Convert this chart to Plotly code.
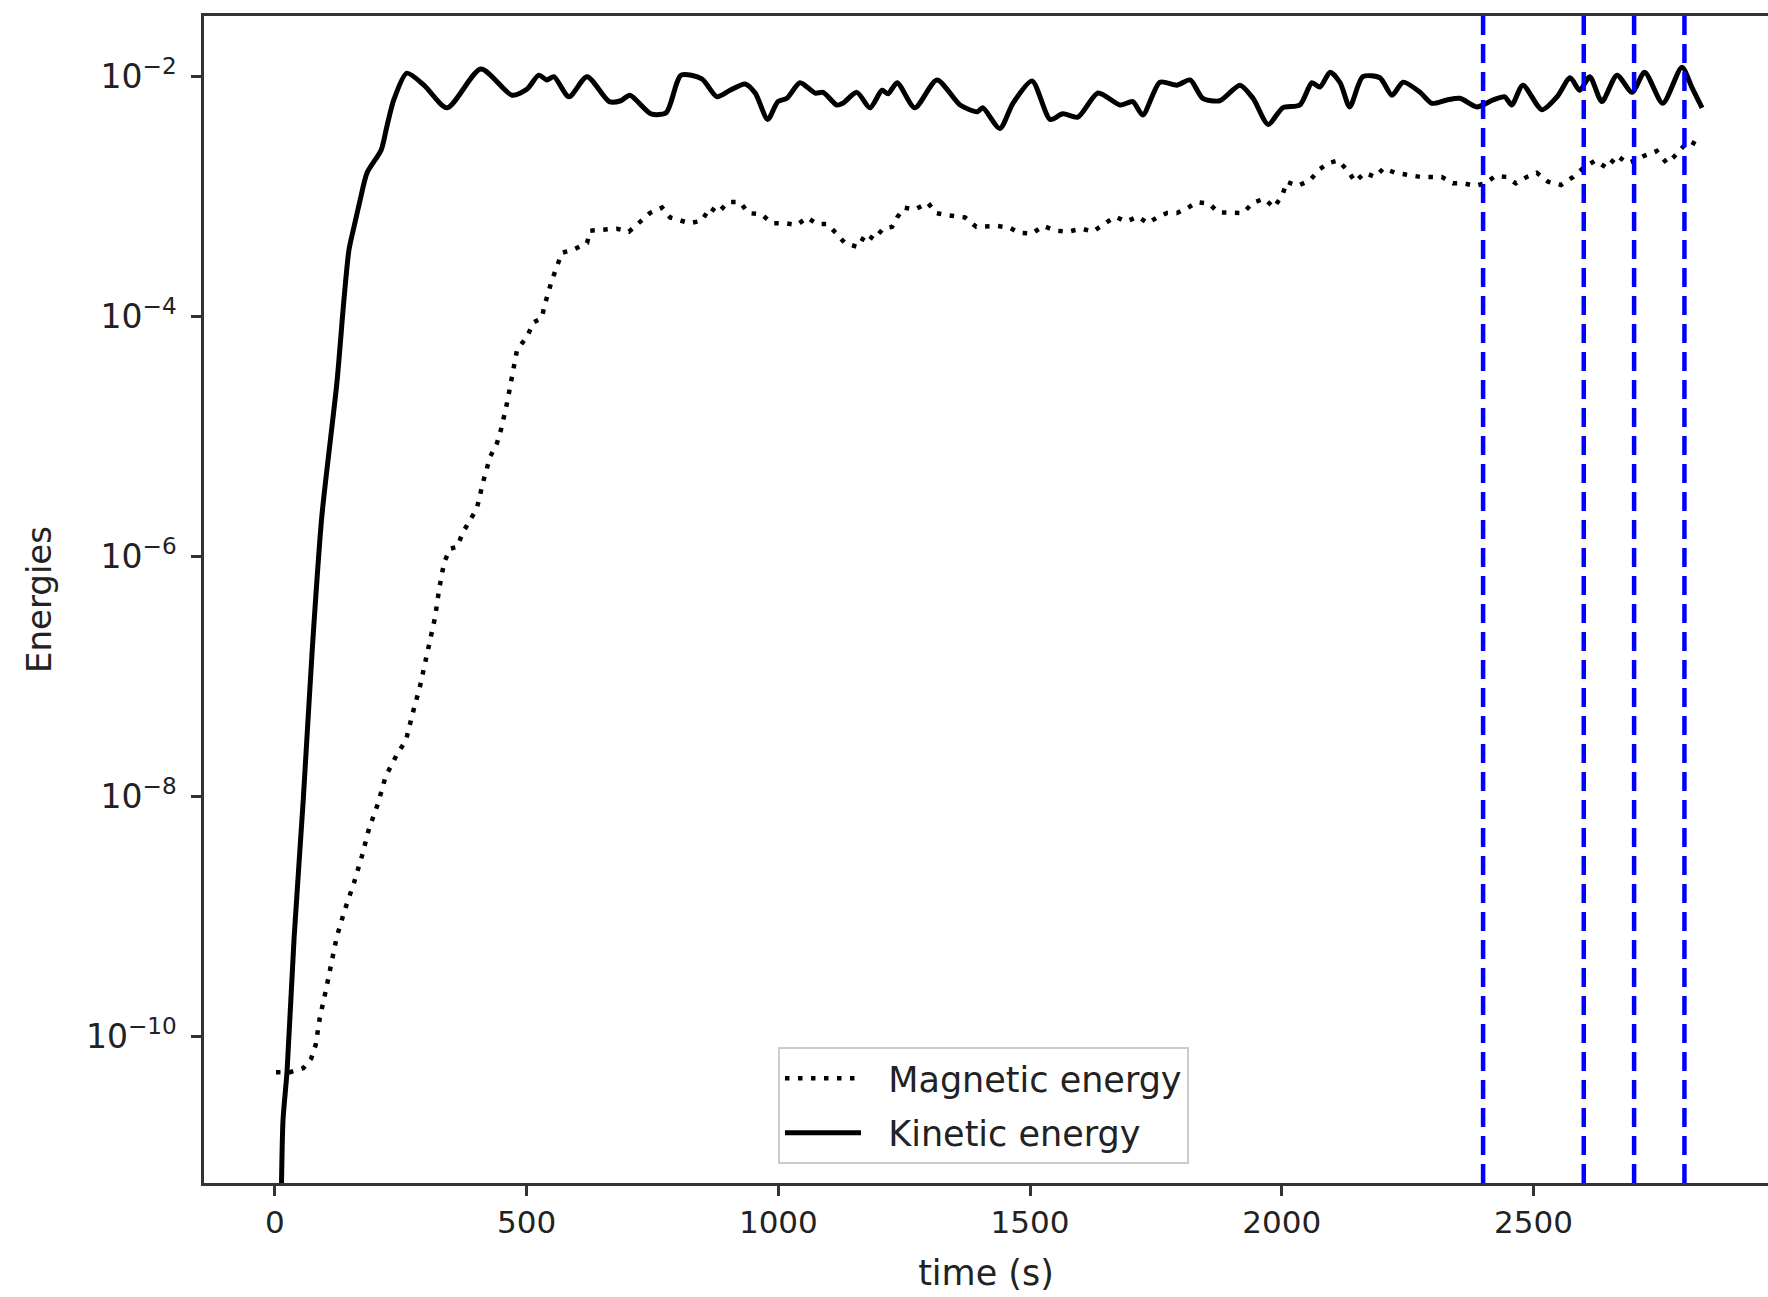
import plotly.graph_objects as go

# ---- data ----
kin_time = [12, 16, 24, 38, 56, 74, 93, 123, 137, 147, 157, 169, 183, 211, 222, 236, 262, 296, 342,
            409, 471, 501, 524, 540, 554, 584, 620, 664, 687, 705, 747, 777, 807, 848, 878, 904, 934,
            954, 979, 999, 1017, 1043, 1073, 1089, 1116, 1128, 1156, 1182, 1206, 1218, 1236, 1271,
            1315, 1361, 1395, 1406, 1440, 1466, 1504, 1540, 1565, 1595, 1635, 1679, 1704, 1724, 1758,
            1792, 1818, 1843, 1877, 1917, 1943, 1973, 2002, 2036, 2060, 2076, 2096, 2116, 2135, 2161,
            2195, 2219, 2241, 2275, 2298, 2328, 2354, 2388, 2420, 2443, 2457, 2479, 2517, 2547, 2573,
            2592, 2612, 2636, 2666, 2696, 2721, 2757, 2795, 2815, 2835]
kin_energy = [3e-12, 2.0e-11, 5.1e-11, 6.6e-10, 9.1e-9, 1.66e-7, 2.14e-6, 2.8e-5, 1.38e-4, 3.6e-4,
              5.6e-4, 9.3e-4, 1.58e-3, 2.45e-3, 3.8e-3, 6.4e-3, 1.07e-2, 8.5e-3, 5.5e-3,
              1.16e-2, 7.0e-3, 7.9e-3, 1.03e-2, 9.4e-3, 1.0e-2, 6.8e-3, 1.0e-2, 6.2e-3, 6.3e-3, 7.0e-3,
              4.9e-3, 5.0e-3, 1.03e-2, 9.6e-3, 6.8e-3, 7.7e-3, 8.7e-3,
              7.3e-3, 4.4e-3, 6.2e-3, 6.6e-3, 8.9e-3, 7.3e-3, 7.4e-3, 5.8e-3, 6.0e-3, 7.4e-3, 5.5e-3,
              7.7e-3, 7.2e-3, 8.9e-3, 5.5e-3,
              9.4e-3, 5.8e-3, 5.1e-3, 5.5e-3, 3.7e-3, 6.0e-3, 9.2e-3, 4.4e-3, 4.9e-3, 4.6e-3, 7.3e-3,
              5.8e-3, 6.2e-3, 4.8e-3, 9.0e-3,
              8.5e-3, 9.4e-3, 6.6e-3, 6.3e-3, 8.5e-3, 6.6e-3, 4.0e-3, 5.5e-3, 5.8e-3, 8.9e-3, 8.2e-3,
              1.09e-2, 8.9e-3, 5.6e-3, 1.0e-2,
              9.8e-3, 7.0e-3, 9.0e-3, 7.4e-3, 6.0e-3, 6.4e-3, 6.6e-3, 5.6e-3, 6.4e-3, 6.8e-3, 5.8e-3,
              8.5e-3, 5.3e-3, 6.8e-3, 9.8e-3,
              7.7e-3, 1.0e-2, 6.2e-3, 1.03e-2, 7.4e-3, 1.09e-2, 6.0e-3, 1.2e-2, 8.1e-3, 5.5e-3]

mag_time = [2, 30, 56, 72, 81, 89, 101, 113, 123, 139, 157, 173, 187, 205, 220, 244, 260, 274, 288,
            300, 306, 318, 326, 336, 348, 362, 373, 401, 413, 427, 441, 449, 461, 471, 481, 501, 513,
            530, 536, 550, 560, 570, 592, 620, 626, 679, 703, 721, 745, 769, 785, 824, 848, 864, 880,
            900, 924, 940, 967, 987, 1013, 1037, 1057, 1077, 1097, 1114, 1132, 1158, 1174, 1190, 1208,
            1226, 1236, 1250, 1271, 1297, 1313, 1337, 1371, 1393, 1414, 1434, 1460, 1478, 1504, 1526,
            1551, 1575, 1603, 1625, 1647, 1669, 1691, 1714, 1734, 1752, 1772, 1792, 1814, 1832, 1857,
            1873, 1923, 1943, 1965, 1985, 2002, 2010, 2032, 2056, 2076, 2092, 2112, 2132, 2146, 2165,
            2185, 2203, 2225, 2249, 2275, 2298, 2318, 2340, 2362, 2384, 2404, 2424, 2447, 2465, 2487,
            2507, 2529, 2555, 2579, 2599, 2623, 2646, 2666, 2686, 2702, 2721, 2745, 2765, 2777, 2797,
            2811, 2831]
mag_energy = [5.0e-11, 5.0e-11, 5.4e-11, 6.5e-11, 8.5e-11, 1.42e-10, 2.4e-10, 4.2e-10, 6.8e-10,
              1.14e-9, 1.9e-9, 3.2e-9, 5.4e-9, 8.8e-9, 1.47e-8, 2.3e-8, 2.9e-8, 5.0e-8, 8.2e-8,
              1.4e-7, 1.8e-7, 3.1e-7, 5.3e-7, 8.9e-7, 1.16e-6, 1.2e-6, 1.58e-6, 2.5e-6, 4.1e-6,
              6.7e-6, 8.8e-6, 1.14e-5, 1.9e-5, 3.2e-5, 5.3e-5, 6.8e-5, 8.9e-5,
              9.7e-5, 1.26e-4, 2.0e-4, 2.6e-4, 3.4e-4, 3.6e-4, 4.1e-4, 5.2e-4, 5.4e-4, 5.1e-4, 6.0e-4,
              7.3e-4, 8.1e-4, 6.7e-4, 6.0e-4, 6.3e-4, 8.1e-4, 7.3e-4,
              9.0e-4, 9.0e-4, 7.3e-4, 7.1e-4, 6.0e-4, 6.0e-4, 5.8e-4, 6.7e-4, 5.9e-4, 5.9e-4, 5.0e-4,
              4.1e-4, 3.8e-4, 4.9e-4, 4.4e-4, 5.4e-4,
              5.6e-4, 6.7e-4, 8.1e-4, 7.8e-4, 8.9e-4, 7.3e-4, 7.0e-4, 6.7e-4, 5.6e-4, 5.6e-4, 5.7e-4,
              5.5e-4, 5.0e-4, 4.9e-4, 5.7e-4,
              5.2e-4, 5.1e-4, 5.4e-4, 5.1e-4, 5.9e-4, 6.8e-4, 6.2e-4, 6.8e-4, 6.0e-4, 6.7e-4, 7.3e-4,
              7.3e-4, 8.1e-4, 9.0e-4, 8.7e-4,
              7.4e-4, 7.3e-4, 8.9e-4, 9.6e-4, 8.1e-4, 1.05e-3, 1.33e-3, 1.23e-3, 1.37e-3, 1.7e-3,
              1.9e-3, 2.0e-3, 1.63e-3, 1.33e-3, 1.58e-3,
              1.46e-3, 1.73e-3, 1.58e-3, 1.52e-3, 1.46e-3, 1.46e-3, 1.46e-3, 1.29e-3, 1.29e-3, 1.23e-3,
              1.29e-3, 1.48e-3, 1.46e-3, 1.29e-3, 1.46e-3,
              1.58e-3, 1.33e-3, 1.25e-3, 1.46e-3, 1.73e-3, 2.0e-3, 1.73e-3, 2.2e-3, 1.9e-3, 2.0e-3,
              2.2e-3, 2.4e-3, 1.9e-3, 2.1e-3, 2.6e-3,
              2.9e-3, 2.6e-3]

marker_times = [2400, 2600, 2700, 2800]

x_ticks = [0, 500, 1000, 1500, 2000, 2500]
y_ticks = [1e-10, 1e-8, 1e-6, 1e-4, 1e-2]
y_tick_text = ["10<sup>\u221210</sup>", "10<sup>\u22128</sup>", "10<sup>\u22126</sup>",
               "10<sup>\u22124</sup>", "10<sup>\u22122</sup>"]

FONT = "DejaVu Sans"
AX = "#333333"
TXT = "#222222"
PAD = "\u00a0\u00a0"

fig = go.Figure()
fig.add_trace(go.Scatter(x=mag_time, y=mag_energy, mode="lines", name=PAD + "Magnetic energy",
                         legendgroup="mag",
                         line=dict(color="black", width=4.5, dash="4.5px,8.5px")))
fig.add_trace(go.Scatter(x=kin_time, y=kin_energy, mode="lines", name=PAD + "Kinetic energy",
                         legendgroup="kin",
                         line=dict(color="black", width=5, shape="spline", smoothing=0.7)))

for t in marker_times:
    fig.add_shape(type="line", xref="x", yref="paper", x0=t, x1=t, y0=0, y1=1,
                  line=dict(color="#0000ff", width=4.5, dash="19px,9px"), layer="above")

fig.update_layout(
    width=1768, height=1297,
    margin=dict(l=204, r=0, t=16, b=114),
    paper_bgcolor="white", plot_bgcolor="white",
    font=dict(family=FONT, size=31, color=TXT),
    showlegend=True,
    legend=dict(x=0.367, y=0.0163, xanchor="left", yanchor="bottom",
                bgcolor="rgba(255,255,255,0.85)", bordercolor="#cccccc", borderwidth=2,
                font=dict(family=FONT, size=35, color=TXT),
                itemwidth=76, traceorder="grouped", tracegroupgap=6),
)

fig.update_xaxes(
    range=[-141, 2966], tickmode="array", tickvals=x_ticks,
    showgrid=False, zeroline=False,
    showline=True, linecolor=AX, linewidth=2.5, mirror=True,
    ticks="outside", ticklen=10, tickwidth=2.5, tickcolor=AX,
    ticklabelstandoff=0,
    title=dict(text="time (s)", font=dict(family=FONT, size=35, color=TXT), standoff=22),
)
fig.update_yaxes(
    type="log", range=[-11.225, -1.494], tickmode="array", tickvals=y_ticks, ticktext=y_tick_text,
    tickfont=dict(family=FONT, size=33, color=TXT),
    showgrid=False, zeroline=False,
    showline=True, linecolor=AX, linewidth=2.5, mirror=False,
    ticks="outside", ticklen=10, tickwidth=2.5, tickcolor=AX,
    ticklabelstandoff=8,
    title=dict(text="Energies", font=dict(family=FONT, size=34, color=TXT), standoff=25),
)

fig.write_html("out.html")
